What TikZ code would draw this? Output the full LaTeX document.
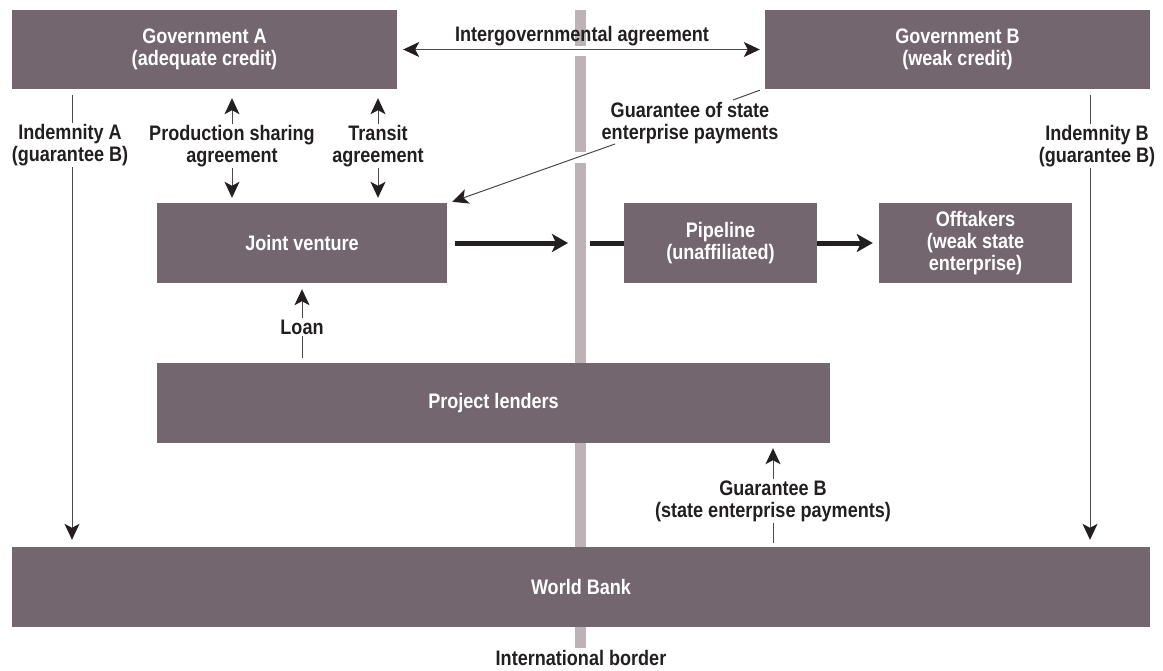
\documentclass[tikz,border=0pt]{standalone}
\usepackage{fontspec}
\setmainfont{Liberation Sans}[FakeStretch=0.86]
\usepackage{tikz}
\usetikzlibrary{arrows.meta}
\definecolor{boxgray}{HTML}{74666F}
\definecolor{bordergray}{HTML}{BDB2B6}
\definecolor{linegray}{HTML}{4A4A4A}
\definecolor{inkblack}{HTML}{231F20}

\begin{document}
\begin{tikzpicture}[x=1pt,y=-1pt,
	>={Stealth[length=16pt,width=15pt,inset=4pt,color=inkblack]},
	party/.style={fill=boxgray,text=white,font=\bfseries\fontsize{21}{22}\selectfont,align=center,inner sep=0pt},
	lbl/.style={text=inkblack,font=\bfseries\fontsize{21}{22}\selectfont,align=center,inner sep=1pt},
	link/.style={draw=linegray,line width=1pt},
	flow/.style={draw=inkblack,line width=5pt,-{Stealth[length=16pt,width=18pt,inset=4pt]}}]
	\useasboundingbox (0,0) rectangle (1163,670);
	\draw[bordergray,line width=11pt] (580.5,10) -- (580.5,46) (580.5,56) -- (580.5,152) (580.5,163) -- (580.5,648);

	\node[party,minimum width=385pt,minimum height=79pt] (govA) at (204.5,49.5) {Government A\\(adequate credit)};
	\node[party,minimum width=385pt,minimum height=79pt] (govB) at (957.5,49.5) {Government B\\(weak credit)};
	\node[party,minimum width=290pt,minimum height=80pt] (jv) at (302,243) {Joint venture};
	\node[party,minimum width=193pt,minimum height=80pt] (pipe) at (720.5,243) {Pipeline\\(unaffiliated)};
	\node[party,minimum width=193pt,minimum height=80pt] (off) at (975.5,243) {Offtakers\\(weak state\\enterprise)};
	\node[party,minimum width=673pt,minimum height=80pt] (lenders) at (493.5,403) {Project lenders};
	\node[party,minimum width=1138pt,minimum height=80pt] (wb) at (581,587) {World Bank};

	\node[lbl] (igalabel) at (582,36) {Intergovernmental agreement};
	\node[lbl] (indA) at (70,145) {Indemnity A\\(guarantee B)};
	\node[lbl] (psa) at (232,146) {Production sharing\\agreement};
	\node[lbl] (ta) at (378,146) {Transit\\agreement};
	\node[lbl] (gsep) at (690,123) {Guarantee of state\\enterprise payments};
	\node[lbl] (indB) at (1097,146) {Indemnity B\\(guarantee B)};
	\node[lbl] (loan) at (302,327) {Loan};
	\node[lbl] (gb) at (773,501) {Guarantee B\\(state enterprise payments)};
	\node[lbl] (borderlabel) at (581,658) {International border};

	\coordinate (indAx) at (72,95);
	\coordinate (indBx) at (1090,95);
	\coordinate (gsepin) at (733,100);
	\coordinate (gsepout) at (615,144);
	\coordinate (bleft) at (568,243);
	\coordinate (bright) at (590,243);

	\draw[link,<->,shorten <=6pt,shorten >=5pt] (govA.east) -- (govB.west);
	\draw[link] (indAx) -- (indAx |- indA.north);
	\draw[link,->,shorten >=7pt] (indAx |- indA.south) -- (indAx |- wb.north);
	\draw[link] (indBx) -- (indBx |- indB.north);
	\draw[link,->,shorten >=7pt] (indBx |- indB.south) -- (indBx |- wb.north);
	\draw[link,->,shorten >=9pt] (psa) -- (psa |- govA.south);
	\draw[link,->,shorten >=5pt] (psa) -- (psa |- jv.north);
	\draw[link,->,shorten >=9pt] (ta) -- (ta |- govA.south);
	\draw[link,->,shorten >=5pt] (ta) -- (ta |- jv.north);
	\draw[link] ([shift={(-5pt,-1pt)}]govB.south west) -- (gsepin);
	\draw[link,->] (gsepout) -- ([shift={(5pt,1pt)}]jv.north east);
	\draw[link,->,shorten >=6pt] (loan) -- (loan |- jv.south);
	\draw[link,shorten >=5pt] (loan) -- (loan |- lenders.north);
	\draw[link,->,shorten >=5pt] (gb) -- (gb |- lenders.south);
	\draw[link,shorten >=4pt] (gb) -- (gb |- wb.north);
	\draw[flow,shorten <=8pt] (jv.east) -- (bleft);
	\draw[flow,-] (bright) -- (pipe.west);
	\draw[flow,shorten >=6pt] (pipe.east) -- (off.west);
\end{tikzpicture}
\end{document}
